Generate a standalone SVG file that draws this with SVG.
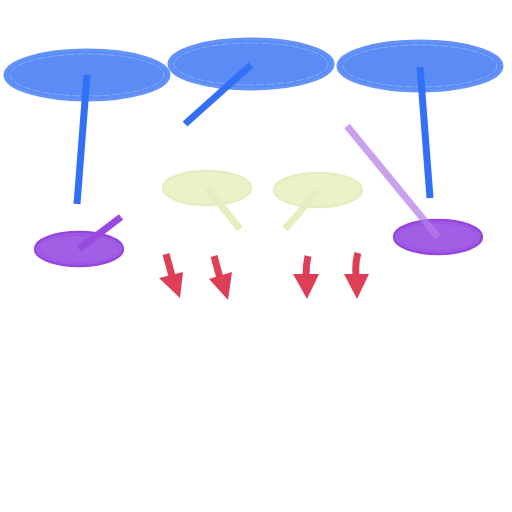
<svg xmlns="http://www.w3.org/2000/svg" width="512" height="512" viewBox="0 0 512 512">
<style>
.big{fill:#5b8cf5;stroke:#6492f6;stroke-width:3}
.bigin{fill:none;stroke:#9fbcf9;stroke-width:0.8;stroke-dasharray:8 2;opacity:0.8}
.pur{fill:#a25fe6;stroke:#9646df;stroke-width:2.5}
.purin{fill:none;stroke:#9a50e2;stroke-width:1}
.yel{fill:#ebf2ca;stroke:#e6eebf;stroke-width:2.5}
.blue{stroke:#3271f7;stroke-width:7;fill:none}
.red{fill:#dd3f57}
.redl{stroke:#dd3f57;stroke-width:7;fill:none}
</style>
<rect width="512" height="512" fill="#fff"/>
<g id="n1"><ellipse class="big" cx="87" cy="75" rx="82" ry="25"/><ellipse class="bigin" cx="87" cy="75" rx="77" ry="21"/></g>
<g id="n2"><ellipse class="big" cx="251" cy="64" rx="82" ry="25"/><ellipse class="bigin" cx="251" cy="64" rx="77" ry="21"/></g>
<g id="n3"><ellipse class="big" cx="420" cy="66" rx="82" ry="25"/><ellipse class="bigin" cx="420" cy="66" rx="77" ry="21"/></g>
<g id="n4"><ellipse class="pur" cx="79" cy="249" rx="44" ry="17"/><ellipse class="purin" cx="79" cy="249" rx="40" ry="14"/></g>
<g id="n5"><ellipse class="pur" cx="438" cy="237" rx="44" ry="17"/><ellipse class="purin" cx="438" cy="237" rx="40" ry="14"/></g>
<g id="n6"><ellipse class="yel" cx="207" cy="188" rx="44" ry="17"/></g>
<g id="n7"><ellipse class="yel" cx="318" cy="190" rx="44" ry="17"/></g>
<g id="connectors">
<line class="blue" x1="87" y1="75" x2="77" y2="204"/>
<line class="blue" x1="251" y1="65" x2="185" y2="124"/>
<line class="blue" x1="420" y1="67" x2="430" y2="198"/>
<line x1="79" y1="249" x2="121" y2="217" stroke="#9a49e0" stroke-width="7"/>
<line x1="438" y1="237" x2="347" y2="126" stroke="#b27ce8" stroke-width="7" opacity="0.7"/>
<line x1="207" y1="188" x2="240" y2="229" stroke="#e6eebf" stroke-width="7"/>
<line x1="318" y1="191" x2="285" y2="229" stroke="#e6eebf" stroke-width="7"/>
<path class="redl" d="M166 254 L172 276"/>
<polygon class="red" points="159,278 183,272 180,298"/>
<path class="redl" d="M214 256 L220 278"/>
<polygon class="red" points="209,279 232,272 228,300"/>
<path class="redl" d="M308 256 Q306 265 306 275"/>
<polygon class="red" points="293,274 319,274 307,299"/>
<path class="redl" d="M358 253 Q355 262 356 275"/>
<polygon class="red" points="344,274 369,274 357,299"/>
</g>
</svg>
